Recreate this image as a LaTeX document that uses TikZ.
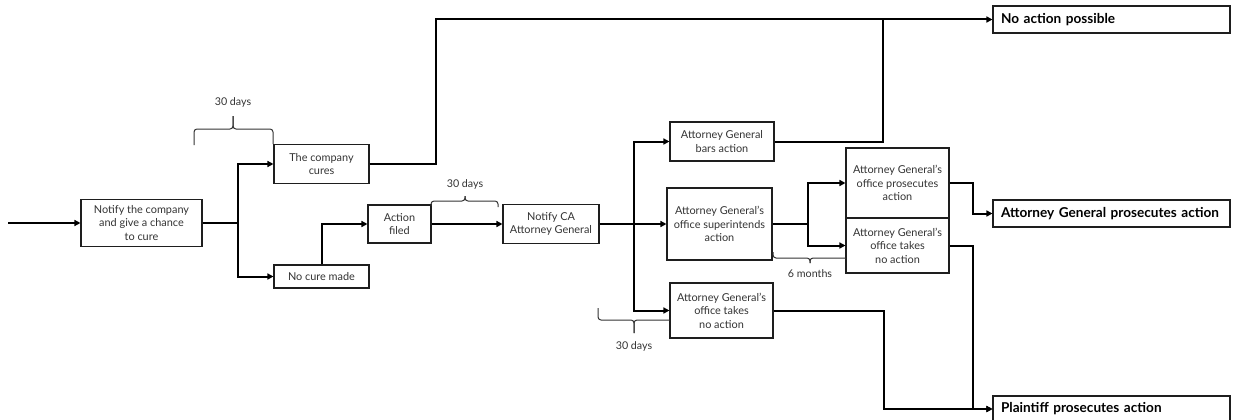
\documentclass[tikz,border=0pt]{standalone}
\usepackage{fontspec}
\setmainfont{Lato}
\usetikzlibrary{arrows.meta}
\definecolor{ink}{HTML}{1E1E1E}
\definecolor{txt}{HTML}{333333}
\begin{document}
\begin{tikzpicture}[x=1pt,y=-1pt,
  box/.style={draw=ink,line width=1.1pt,inner sep=1pt,align=center,text=txt,
    font=\fontsize{10.9}{13.4}\selectfont},
  bigbox/.style={draw=ink,line width=1.1pt,inner sep=0pt,text=black,
    font=\fontsize{13.6}{15}\selectfont\bfseries,text width=221pt,align=left},
  conn/.style={draw=black,line width=2pt},
  arr/.style={conn,-{Triangle[length=6pt,width=6pt]}},
  brace/.style={draw=txt,line width=1pt,rounded corners=3pt},
  lab/.style={text=txt,font=\fontsize{10.7}{12}\selectfont,inner sep=0pt}]
\useasboundingbox (0,0) rectangle (1234,420);

% boxes
\node[box,minimum width=121pt,minimum height=47pt] (n1) at (141.5,223) {Notify the company\\and give a chance\\to cure};
\node[box,minimum width=95pt,minimum height=39pt] (cures) at (321.5,164) {The company\\cures};
\node[box,minimum width=95pt,minimum height=23pt] (nocure) at (321.5,276.5) {No cure made};
\node[box,minimum width=63pt,minimum height=38pt] (filed) at (399.5,224) {Action\\filed};
\node[box,minimum width=96pt,minimum height=39pt] (notca) at (551,224) {Notify CA\\Attorney General};
\node[box,minimum width=104pt,minimum height=39pt] (bars) at (722,141.5) {Attorney General\\bars action};
\node[box,minimum width=105pt,minimum height=72pt] (super) at (719.5,224) {Attorney General's\\office superintends\\action};
\node[box,minimum width=103pt,minimum height=55pt] (takesA) at (721.5,310.5) {Attorney General's\\office takes\\no action};
\node[box,minimum width=103pt,minimum height=70pt] (prosec) at (897.5,183) {Attorney General's\\office prosecutes\\action};
\node[box,minimum width=103pt,minimum height=55pt] (takesB) at (897.5,245.5) {Attorney General's\\office takes\\no action};
\node[bigbox,minimum width=237pt,minimum height=27pt] (noact) at (1111.5,19.5) {No action possible};
\node[bigbox,minimum width=237pt,minimum height=27pt] (agpros) at (1111.5,213.5) {Attorney General prosecutes action};
\node[bigbox,minimum width=237pt,minimum height=26pt] (plaint) at (1111.5,409) {Plaintiff prosecutes action};

% helper coordinates
\coordinate (start) at (8,223);
\coordinate (br1) at (238,223);
\coordinate (br2) at (634,224);
\coordinate (br3) at (808,224);
\coordinate (j1) at (883,19.5);
\coordinate (j2) at (884,409);

% connectors
\draw[arr] (start) -- (n1.west);
\draw[conn] (n1.east) -- (br1);
\draw[arr] (br1) |- (cures.west);
\draw[arr] (br1) |- (nocure.west);
\draw[arr] (nocure.north) |- (filed.west);
\draw[arr] (filed.east) -- (notca.west);
\draw[conn] (notca.east) -- (br2);
\draw[arr] (br2) |- (bars.west);
\draw[arr] (br2) -- (super.west);
\draw[arr] (br2) |- (takesA.west);
\draw[conn] (super.east) -- (br3);
\draw[arr] (br3) |- (prosec.west);
\draw[arr] (br3) |- (takesB.west);
\draw[arr] (cures.east) -- ++(66,0) |- (noact.west);
\draw[conn] (bars.east) -| (j1);
\draw[arr] (prosec.east) -- ++(23,0) |- (agpros.west);
\draw[arr] (takesB.east) -- ++(23,0) |- (plaint.west);
\draw[arr] (takesA.east) -| (j2) -- (plaint.west);

% braces
\draw[brace] (194,145) -- (194,129) -- (233,129) -- (233,116);
\draw[brace] (233,116) -- (233,129) -- (273,129) -- (273,144);
\node[lab] (l1) at (233,102) {30 days};

\draw[brace] (431,206) -- (431,201) -- (465,201) -- (465,196);
\draw[brace] (465,196) -- (465,201) -- (498,201) -- (498,207);
\node[lab] (l2) at (465,184) {30 days};

\draw[brace] (773,252) -- (773,258) -- (810,258) -- (810,263);
\draw[brace] (810,263) -- (810,258) -- (846,258);
\node[lab] (l3) at (810,274) {6 months};

\draw[brace] (598,308) -- (598,320) -- (634,320) -- (634,333);
\draw[brace] (634,333) -- (634,320) -- (670,320);
\node[lab] (l4) at (634,346) {30 days};
\end{tikzpicture}
\end{document}
